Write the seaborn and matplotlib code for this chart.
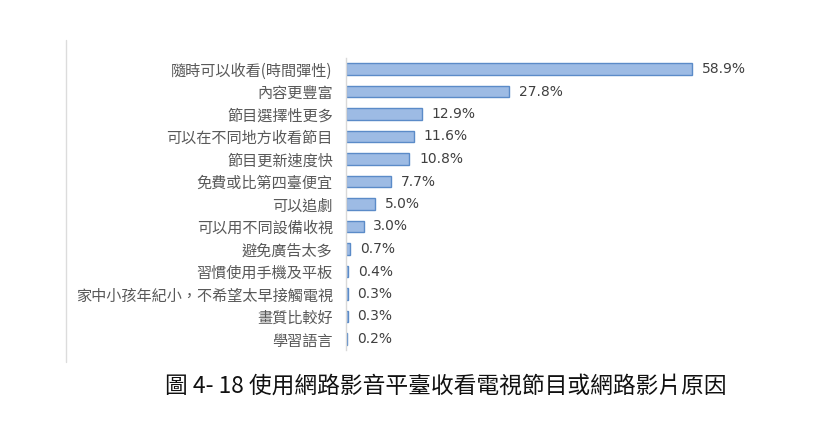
import matplotlib
matplotlib.use("Agg")
import matplotlib.pyplot as plt
import seaborn as sns
import pandas as pd
from matplotlib.lines import Line2D

categories = [
    "隨時可以收看(時間彈性)",
    "內容更豐富",
    "節目選擇性更多",
    "可以在不同地方收看節目",
    "節目更新速度快",
    "免費或比第四臺便宜",
    "可以追劇",
    "可以用不同設備收視",
    "避免廣告太多",
    "習慣使用手機及平板",
    "家中小孩年紀小，不希望太早接觸電視",
    "畫質比較好",
    "學習語言",
]
values = [58.9, 27.8, 12.9, 11.6, 10.8, 7.7, 5.0, 3.0, 0.7, 0.4, 0.3, 0.3, 0.2]
value_labels = [f"{v:.1f}%" for v in values]
title = "圖 4- 18 使用網路影音平臺收看電視節目或網路影片原因"

sns.set_theme(style="white")
plt.rcParams["font.family"] = ["Noto Sans CJK TC", "DejaVu Sans"]

df = pd.DataFrame({"category": categories, "value": values})

W, H = 826, 421
fig = plt.figure(figsize=(W / 100, H / 100), dpi=100)
ax_left, ax_right = 346, 757
ax_top, ax_bottom = 57.75, 350.25
ax = fig.add_axes([ax_left / W, 1 - ax_bottom / H, (ax_right - ax_left) / W, (ax_bottom - ax_top) / H])

sns.barplot(data=df, x="value", y="category", orient="h", color="#9dbbe4",
            saturation=1, width=0.5, edgecolor="#5b8bc8", linewidth=1.0, ax=ax)

ax.set_xlim(0, 70)
ax.set_ylim(len(categories) - 0.5, -0.5)
ax.set_xlabel("")
ax.set_ylabel("")
ax.set_xticks([])
ax.tick_params(axis="y", length=0, pad=9.5, labelsize=10.9, labelcolor="#595959")
for lab in ax.get_yticklabels():
    lab.set_fontfamily(["Noto Sans CJK TC", "DejaVu Sans"])

for s in ["top", "right", "bottom"]:
    ax.spines[s].set_visible(False)
ax.spines["left"].set_color("#d9d9d9")
ax.spines["left"].set_linewidth(1.0)

ax.bar_label(ax.containers[0], labels=value_labels, padding=7,
             fontsize=10, color="#404040", family=["DejaVu Sans"])

# faint chart border on the left
fig.add_artist(Line2D([65.5 / W, 65.5 / W], [1 - 40 / H, 1 - 362 / H],
                      color="#dcdcdc", linewidth=1.0, transform=fig.transFigure))

fig.text(446 / W, 1 - 386 / H, title, ha="center", va="center",
         fontsize=16.4, color="#111111", family=["Noto Sans CJK TC", "DejaVu Sans"])

fig.savefig("out.png", dpi=100, facecolor="white")
